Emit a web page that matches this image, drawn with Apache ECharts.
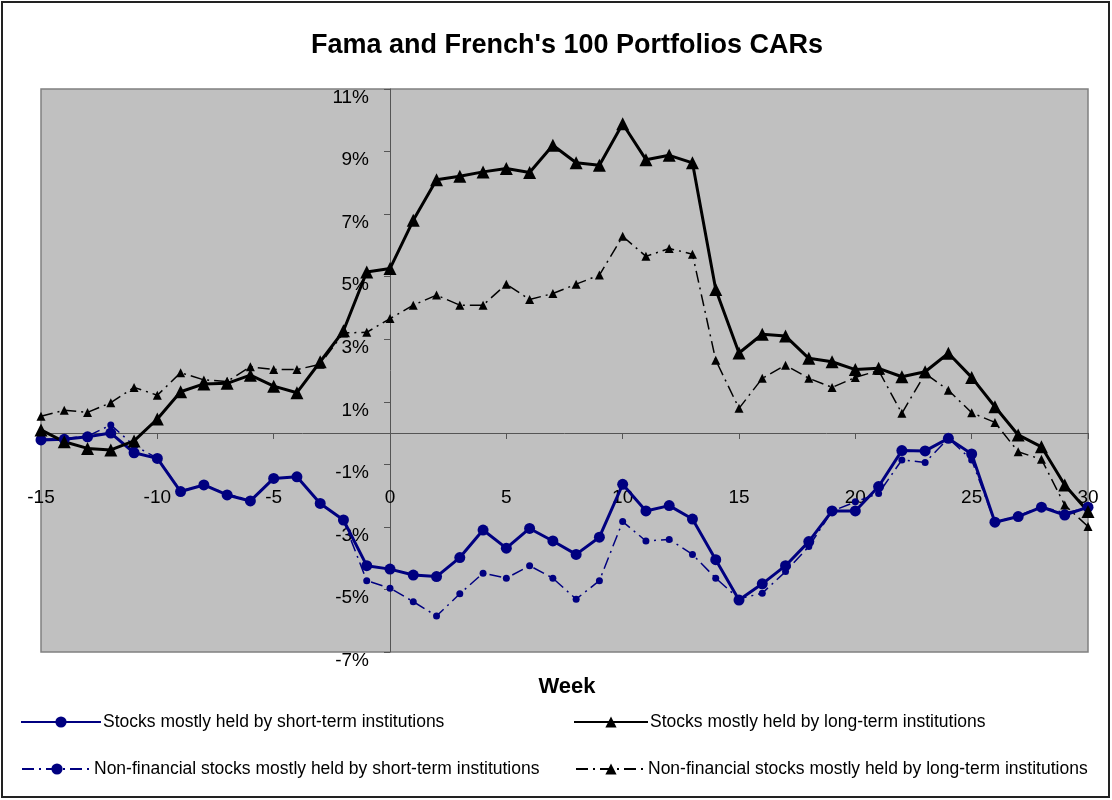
<!DOCTYPE html>
<html>
<head>
<meta charset="utf-8">
<script src="https://cdn.jsdelivr.net/npm/echarts@6/dist/echarts.min.js"></script>
<style>
html,body{margin:0;padding:0;background:#fff;}
#chart{width:1112px;height:800px;}
</style>
</head>
<body>
<div id="chart"></div>
<script>
// Week categories (x values)
const weeks = [-15,-14,-13,-12,-11,-10,-9,-8,-7,-6,-5,-4,-3,-2,-1,0,
  1,2,3,4,5,6,7,8,9,10,11,12,13,14,15,
  16,17,18,19,20,21,22,23,24,25,26,27,28,29,30];

// CARs in percent
const shortTerm = [-0.22,-0.20,-0.12,0.00,-0.63,-0.81,-1.87,-1.66,-1.98,-2.17,-1.45,-1.40,-2.25,-2.78,-4.24,-4.35,
  -4.54,-4.59,-3.98,-3.10,-3.68,-3.05,-3.45,-3.88,-3.33,-1.64,-2.49,-2.32,-2.75,-4.05,-5.34,
  -4.82,-4.24,-3.47,-2.49,-2.49,-1.71,-0.56,-0.57,-0.17,-0.67,-2.85,-2.67,-2.37,-2.62,-2.37];

const longTerm = [0.10,-0.28,-0.49,-0.54,-0.25,0.45,1.32,1.57,1.59,1.85,1.50,1.29,2.28,3.27,5.15,5.26,
  6.80,8.10,8.21,8.35,8.46,8.33,9.20,8.64,8.56,9.89,8.74,8.88,8.64,4.59,2.56,
  3.16,3.10,2.39,2.28,2.03,2.07,1.80,1.96,2.55,1.78,0.84,-0.06,-0.44,-1.66,-2.51];

const nfShortTerm = [-0.20,-0.18,-0.10,0.26,-0.40,-0.80,-1.85,-1.65,-1.95,-2.15,-1.45,-1.40,-2.25,-2.80,-4.72,-4.96,
  -5.39,-5.85,-5.14,-4.48,-4.64,-4.24,-4.64,-5.31,-4.72,-2.83,-3.45,-3.40,-3.88,-4.64,-5.30,
  -5.12,-4.43,-3.63,-2.50,-2.20,-1.93,-0.86,-0.94,-0.17,-0.86,-2.85,-2.65,-2.35,-2.55,-2.40];

const nfLongTerm = [0.54,0.73,0.66,0.97,1.46,1.21,1.93,1.70,1.65,2.12,2.03,2.03,2.20,3.20,3.22,3.66,
  4.09,4.41,4.09,4.09,4.76,4.27,4.46,4.76,5.05,6.29,5.65,5.90,5.72,2.33,0.79,
  1.75,2.17,1.75,1.46,1.78,2.00,0.63,1.90,1.37,0.65,0.34,-0.60,-0.84,-2.30,-2.99];

const seriesNames = [
  'Stocks mostly held by short-term institutions',
  'Stocks mostly held by long-term institutions',
  'Non-financial stocks mostly held by short-term institutions',
  'Non-financial stocks mostly held by long-term institutions'
];

const pairs = arr => weeks.map((w, i) => [w, arr[i]]);

const FONT = '"Liberation Sans", Arial, sans-serif';
const NAVY = '#000080';
const dashDot = [12, 5, 2, 5];

const GRID = {left: 41, right: 24, top: 89, bottom: 148};
const X0_PX = 390;   // pixel where week 0 sits
const Y0_PX = 433;   // pixel where 0% sits

const chart = echarts.init(document.getElementById('chart'));

const legendBase = {
  orient: 'horizontal',
  itemHeight: 14,
  itemGap: 0,
  padding: 5,
  textStyle: {fontFamily: FONT, fontSize: 17.5, color: '#000', padding: [0,0,0,-3]},
  selectedMode: false
};

chart.setOption({
  animation: false,
  backgroundColor: '#fff',
  graphic: [
    {type: 'rect', shape: {x: 2, y: 2, width: 1107, height: 795},
     style: {fill: 'none', stroke: '#222', lineWidth: 2}, silent: true},
    {type: 'text', x: 567, y: 46, style: {text: "Fama and French's 100 Portfolios CARs",
      font: 'bold 27px ' + FONT, fill: '#000', textAlign: 'center', textVerticalAlign: 'middle'}},
    {type: 'text', x: 567, y: 687, style: {text: 'Week',
      font: 'bold 22px ' + FONT, fill: '#000', textAlign: 'center', textVerticalAlign: 'middle'}}
  ],
  grid: Object.assign({
    show: true, backgroundColor: '#c0c0c0', borderColor: '#808080', borderWidth: 1.5,
    containLabel: false, outerBoundsMode: 'none'
  }, GRID),
  legend: [
    Object.assign({}, legendBase, {data: [seriesNames[0]], left: 15, top: 708, itemWidth: 80}),
    Object.assign({}, legendBase, {data: [seriesNames[1]], left: 568, top: 708, itemWidth: 74}),
    Object.assign({}, legendBase, {data: [seriesNames[2]], left: 16, top: 755, itemWidth: 70}),
    Object.assign({}, legendBase, {data: [seriesNames[3]], left: 570, top: 755, itemWidth: 70})
  ],
  xAxis: {
    type: 'value', min: -15, max: 30, interval: 5,
    position: 'bottom',
    offset: -(800 - GRID.bottom - Y0_PX),
    axisLine: {onZero: false, lineStyle: {color: '#555', width: 1}},
    axisTick: {show: true, inside: false, length: 6, lineStyle: {color: '#555'}},
    axisLabel: {margin: 55, fontFamily: FONT, fontSize: 19, color: '#000',
      showMinLabel: true, showMaxLabel: true},
    splitLine: {show: false}
  },
  yAxis: {
    type: 'value', min: -7, max: 11, interval: 2,
    position: 'left',
    offset: -(X0_PX - GRID.left),
    axisLine: {show: true, onZero: false, lineStyle: {color: '#555', width: 1}},
    axisTick: {show: true, inside: false, length: 6, lineStyle: {color: '#555'}},
    axisLabel: {margin: 21, fontFamily: FONT, fontSize: 19, color: '#000',
      verticalAlign: 'top', lineHeight: 17, formatter: v => v + '%'},
    splitLine: {show: false}
  },
  series: [
    {name: seriesNames[0], type: 'line', data: pairs(shortTerm), z: 4,
     symbol: 'circle', symbolSize: 11, color: NAVY,
     lineStyle: {color: NAVY, width: 3}, itemStyle: {color: NAVY}},
    {name: seriesNames[1], type: 'line', data: pairs(longTerm), z: 4,
     symbol: 'triangle', symbolSize: 13, color: '#000',
     lineStyle: {color: '#000', width: 3}, itemStyle: {color: '#000'}},
    {name: seriesNames[2], type: 'line', data: pairs(nfShortTerm), z: 3,
     symbol: 'circle', symbolSize: 7, color: NAVY,
     lineStyle: {color: NAVY, width: 1.5, type: dashDot}, itemStyle: {color: NAVY}},
    {name: seriesNames[3], type: 'line', data: pairs(nfLongTerm), z: 3,
     symbol: 'triangle', symbolSize: 9, color: '#000',
     lineStyle: {color: '#000', width: 1.5, type: dashDot}, itemStyle: {color: '#000'}}
  ]
});
</script>
</body>
</html>
